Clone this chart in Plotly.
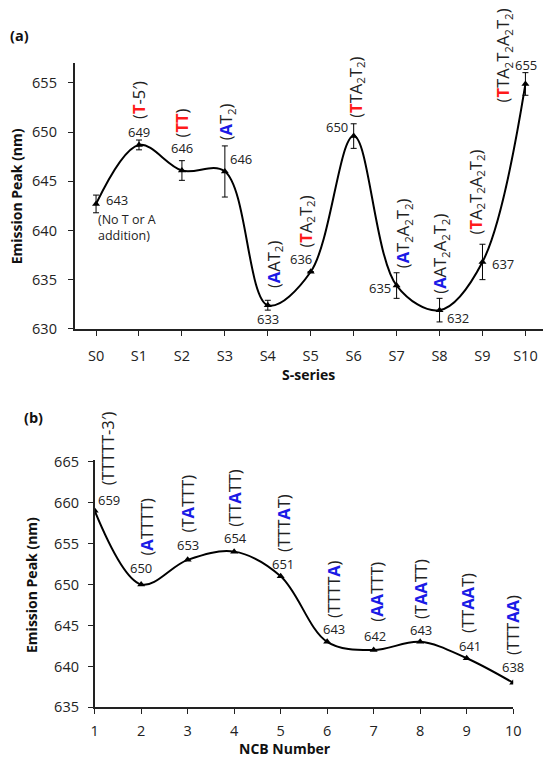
import plotly.graph_objects as go

# ---------------- data ----------------
a_cats = ['S0', 'S1', 'S2', 'S3', 'S4', 'S5', 'S6', 'S7', 'S8', 'S9', 'S10']
a_peak = [642.7, 648.7, 646.1, 646.0, 632.4, 635.8, 649.6, 634.4, 631.9, 636.8, 654.9]
a_err = [0.9, 0.5, 1.0, 2.6, 0.5, 0.0, 1.25, 1.3, 1.2, 1.8, 1.15]
a_vals = ['643', '649', '646', '646', '633', '636', '650', '635', '632', '637', '655']
RED = '#ff1a1a'
BLUE = '#1a1ae6'
def r(s):
    return "<b><span style='color:%s'>%s</span></b>" % (RED, s)
def b(s):
    return "<b><span style='color:%s'>%s</span></b>" % (BLUE, s)
a_seq = [
    None,
    '(' + r('T') + '-5′)',
    '(' + r('TT') + ')',
    '(' + b('A') + 'T<sub>2</sub>)',
    '(' + b('A') + 'AT<sub>2</sub>)',
    '(' + r('T') + 'A<sub>2</sub>T<sub>2</sub>)',
    '(' + r('T') + 'TA<sub>2</sub>T<sub>2</sub>)',
    '(' + b('A') + 'T<sub>2</sub>A<sub>2</sub>T<sub>2</sub>)',
    '(' + b('A') + 'AT<sub>2</sub>A<sub>2</sub>T<sub>2</sub>)',
    '(' + r('T') + 'A<sub>2</sub>T<sub>2</sub>A<sub>2</sub>T<sub>2</sub>)',
    '(' + r('T') + 'TA<sub>2</sub>T<sub>2</sub>A<sub>2</sub>T<sub>2</sub>)',
]
a_note = '(No T or A<br>addition)'

b_ncb = [1, 2, 3, 4, 5, 6, 7, 8, 9, 10]
b_peak = [659, 650, 653, 654, 651, 643, 642, 643, 641, 638]
b_vals = ['659', '650', '653', '654', '651', '643', '642', '643', '641', '638']
b_seq = [
    '(TTTTT-3′)',
    '(' + b('A') + 'TTTT)',
    '(T' + b('A') + 'TTT)',
    '(TT' + b('A') + 'TT)',
    '(TTT' + b('A') + 'T)',
    '(TTTT' + b('A') + ')',
    '(' + b('AA') + 'TTT)',
    '(T' + b('AA') + 'TT)',
    '(TT' + b('AA') + 'T)',
    '(TTT' + b('AA') + ')',
]

# ---------------- styling / offsets ----------------
OFF = 8                      # page body margin of the html page
W, H = 552 - OFF, 765 - OFF  # visible figure size
FONT = 'Open Sans'
TXT = '#222222'
a_val_shift = [(0, 0), (0, 13), (0, 22), (16, 12), (0, -14), (-10, 13),
               (-17, 9), (-17, -2), (18, -8), (21, -2), (1, 19)]
a_seq_shift = [None, (0, 45), (0, 48), (2, 50), (6, 41), (-5, 50),
               (2, 49), (6, 52), (1, 56), (-7, 70), (-22, 29)]
b_val_shift = [(14, 11), (0, 16), (0, 15), (1, 14), (2, 12), (7, 13),
               (1, 14), (1, 12), (3, 12), (0, 16)]
b_seq_shift = [(13, 62), (5, 58), (0, 56), (0, 54), (3, 53), (7, 53),
               (2, 58), (1, 53), (1, 55), (0, 58)]

def fx(px):
    return (px - OFF) / W
def fy(py):
    return 1 - (py - OFF) / H

fig = go.Figure()
fig.add_trace(go.Scatter(
    x=list(range(len(a_cats))), y=a_peak, mode='lines+markers',
    line=dict(color='black', width=2, shape='spline', smoothing=1),
    marker=dict(symbol='triangle-up', size=7, color='black'),
    error_y=dict(type='data', array=a_err, visible=True, color='black',
                 thickness=1, width=3),
    xaxis='x', yaxis='y', showlegend=False, hoverinfo='skip'))
fig.add_trace(go.Scatter(
    x=b_ncb, y=b_peak, mode='lines+markers',
    line=dict(color='black', width=2, shape='spline', smoothing=1),
    marker=dict(symbol='triangle-up', size=7, color='black'),
    xaxis='x2', yaxis='y2', showlegend=False, hoverinfo='skip'))

ann = []
VAL_FONT = dict(size=13, family=FONT, color=TXT)
SEQ_FONT = dict(size=16.5, family=FONT, color=TXT)
# value labels (a)
for i, v in enumerate(a_vals):
    dx, dy = a_val_shift[i]
    if i == 0:
        ann.append(dict(x=i, y=a_peak[i], xref='x', yref='y', text=v,
                        xanchor='left', yanchor='middle', xshift=8, yshift=4,
                        showarrow=False, font=VAL_FONT))
        ann.append(dict(x=i, y=a_peak[i], xref='x', yref='y', text=a_note,
                        xanchor='left', yanchor='middle', align='left', xshift=0, yshift=-24,
                        showarrow=False, font=dict(size=12.5, family=FONT, color=TXT)))
        continue
    ann.append(dict(x=i, y=a_peak[i], xref='x', yref='y', text=v,
                    xanchor='center', yanchor='middle', xshift=dx, yshift=dy,
                    showarrow=False, font=VAL_FONT))
# sequence labels (a)
for i, s in enumerate(a_seq):
    if s is None:
        continue
    dx, dy = a_seq_shift[i]
    ann.append(dict(x=i, y=a_peak[i], xref='x', yref='y', text=s, textangle=-90,
                    xanchor='center', yanchor='middle', xshift=dx, yshift=dy,
                    showarrow=False, font=SEQ_FONT))
# value + sequence labels (b)
for i, v in enumerate(b_vals):
    dx, dy = b_val_shift[i]
    ann.append(dict(x=b_ncb[i], y=b_peak[i], xref='x2', yref='y2', text=v,
                    xanchor='center', yanchor='middle', xshift=dx, yshift=dy,
                    showarrow=False, font=VAL_FONT))
    dx, dy = b_seq_shift[i]
    ann.append(dict(x=b_ncb[i], y=b_peak[i], xref='x2', yref='y2', text=b_seq[i], textangle=-90,
                    xanchor='center', yanchor='middle', xshift=dx, yshift=dy,
                    showarrow=False, font=SEQ_FONT))

def txt(px, py, text, size=14, angle=0):
    ann.append(dict(x=fx(px), y=fy(py), xref='paper', yref='paper', text='<b>%s</b>' % text,
                    textangle=angle, xanchor='center', yanchor='middle', showarrow=False,
                    font=dict(size=size, family=FONT, color='#111111')))

txt(15.5, 28, '(a)', 14.5)
txt(30, 419, '(b)', 14.5)
txt(12, 192.5, 'Emission Peak (nm)', 14, -90)
txt(311.5, 375, 'S-series', 14)
txt(28.5, 590, 'Emission Peak (nm)', 14, -90)
txt(287, 757, 'NCB Number', 14)

axis_common = dict(showline=True, linecolor='#222222', linewidth=1.5, showgrid=False,
                   zeroline=False, ticks='outside', ticklen=5, tickcolor='#222222', tickwidth=1.2,
                   tickfont=dict(size=14.5, family=FONT, color=TXT))

fig.update_layout(
    width=W, height=H, margin=dict(l=0, r=0, t=0, b=0),
    paper_bgcolor='white', plot_bgcolor='white',
    xaxis=dict(domain=[fx(72), fx(551)], range=[-0.5, 10.41],
               tickvals=list(range(len(a_cats))), ticktext=a_cats,
               anchor='y', ticklabelstandoff=8, **axis_common),
    yaxis=dict(domain=[fy(328), fy(56.4)], range=[630, 657],
               tickvals=[630, 635, 640, 645, 650, 655],
               anchor='x', ticklabelstandoff=8, **axis_common),
    xaxis2=dict(domain=[fx(92.5), fx(520.5)], range=[1, 10],
                tickvals=b_ncb, anchor='y2', ticklabelstandoff=4, **axis_common),
    yaxis2=dict(domain=[fy(715.3), fy(462)], range=[635, 665.2],
                tickvals=[635, 640, 645, 650, 655, 660, 665],
                anchor='x2', ticklabelstandoff=6, **axis_common),
    annotations=ann,
)

fig.write_html('out.html')
